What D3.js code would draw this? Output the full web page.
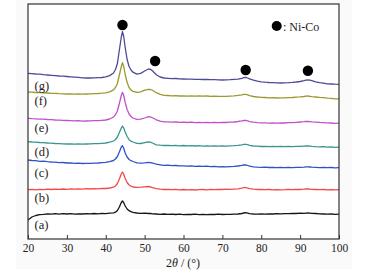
<!DOCTYPE html>
<html><head><meta charset="utf-8">
<script src="https://cdn.jsdelivr.net/npm/d3@7/dist/d3.min.js"></script>
<style>html,body{margin:0;padding:0;background:#fff;}svg{display:block;}</style>
</head><body>
<svg id="c" width="367" height="274"></svg>
<script>
const twoTheta = [20,21,22,23,24,25,26,27,28,29,30,31,32,33,34,35,36,37,38,39,40,41,42,42.5,43,43.5,44,44.3,44.6,45,45.5,46,46.5,47,48,49,50,51,51.5,52,53,54,55,56,57,58,59,60,61,62,63,64,65,66,67,68,69,70,71,72,73,74,75,75.5,76,76.5,77,78,79,80,81,82,83,84,85,86,87,88,89,90,91,91.5,92,92.5,93,94,95,96,97,98,99,100];

const seriesA = [19,22,23.5,24.3,24.6,25.2,24.8,25.3,24.9,25.4,25.0,25.3,24.8,25.2,25.0,25.4,25.1,25.5,25.2,25.6,25.4,25.8,26.2,26.8,28.5,32,36.5,38,36.5,33,30,28.3,27.3,26.6,26.0,25.7,25.8,25.5,25.6,25.2,25.0,24.7,25.0,24.6,24.9,24.5,24.8,24.4,24.7,24.5,24.8,24.4,24.6,24.3,24.7,24.5,24.8,24.5,24.7,24.6,24.9,25.0,25.5,26.0,26.3,25.8,25.3,25.0,24.8,25.1,24.9,25.2,25.0,25.3,25.1,25.4,25.3,25.6,25.5,25.8,25.7,25.9,26.0,25.8,25.6,25.5,25.2,25.0,24.8,25.0,24.7,24.8];
const seriesB = [49.3,49.6,49.2,49.7,49.4,49.8,49.5,49.9,49.6,50.0,49.7,50.1,49.8,50.2,49.9,50.3,50.0,50.4,50.2,50.6,50.5,51.0,51.8,53,55.5,60,65,67,65,60.5,56.5,54.0,52.8,52.0,51.6,51.8,52.2,52.5,52.2,51.3,50.3,49.8,49.5,49.7,49.3,49.6,49.2,49.5,49.1,49.4,49.0,49.3,49.5,49.2,49.6,49.3,49.7,49.5,49.8,49.6,49.9,50.2,50.8,51.3,51.5,50.9,50.3,49.8,49.5,49.7,49.3,49.5,49.2,49.4,49.1,49.3,49.6,49.4,49.7,49.5,49.8,50.0,50.1,49.9,49.7,49.5,49.3,49.5,49.2,49.4,49.1,49.3];
const seriesC = [79.0,78.5,78.3,77.7,77.8,77.3,77.0,76.9,76.4,76.5,76.0,76.1,75.7,75.9,75.5,75.7,75.6,75.9,76.0,76.4,76.6,77.4,78.5,80,82.5,87,92,93.3,91,86,82,79.5,78.3,77.5,76.2,75.8,76.1,76.6,76.3,76.0,74.8,74.2,73.6,73.8,73.3,73.5,73.1,73.2,72.9,73.1,72.7,72.9,72.6,72.8,72.4,72.6,72.2,72.3,72.1,72.4,72.6,73.0,73.6,74.0,74.1,73.5,72.8,72.2,71.8,71.6,71.8,71.5,71.7,71.4,71.6,71.3,71.5,71.4,71.7,71.6,71.9,72.1,72.2,72.0,71.8,71.6,71.4,71.6,71.3,71.5,71.2,71.3];
const seriesD = [97.3,97.0,96.8,96.5,96.3,96.0,95.8,95.5,95.4,95.1,95.0,95.2,94.9,95.1,94.8,95.0,95.1,95.3,95.4,95.7,96.0,96.8,98.0,99.5,102,106.5,111,113,111.2,107,102.5,99.3,97.8,97.0,95.6,95.5,96.4,97.0,96.8,96.0,94.2,93.8,93.5,93.7,93.3,93.6,93.2,93.5,93.1,93.4,93.0,93.3,92.9,93.2,92.8,93.1,92.8,93.0,92.8,93.1,93.3,93.6,94.2,94.6,94.7,94.3,93.6,93.0,92.8,92.5,92.7,92.4,92.6,92.3,92.5,92.3,92.6,92.4,92.7,92.6,92.9,93.0,93.1,92.9,92.6,92.3,92.1,92.3,91.9,92.1,91.7,91.8];
const seriesE = [120.7,120.4,120.2,119.9,119.8,119.5,119.3,119.0,118.9,118.6,118.5,118.4,118.1,118.3,117.9,118.0,118.1,118.3,118.4,118.7,119.0,120.0,122.0,124.3,128,135.5,143.5,146.7,144,136.5,129.5,125.0,122.5,121.0,119.6,119.8,121.0,122.3,122.0,121.3,119.2,117.8,117.1,117.2,116.8,117.0,116.6,116.8,116.5,116.8,116.4,116.7,116.4,116.6,116.3,116.6,116.4,116.6,116.5,116.8,117.0,117.5,118.1,118.5,118.6,118.1,117.4,116.8,116.4,116.1,116.2,115.9,116.1,115.9,116.1,116.0,116.3,116.4,116.7,117.0,117.3,117.5,117.6,117.4,117.1,116.9,116.6,116.4,116.1,116.0,115.7,115.8];
const seriesF = [147.0,146.8,146.5,146.4,146.1,146.0,145.7,145.6,145.3,145.2,145.0,145.1,144.8,145.0,144.8,145.0,145.1,145.3,145.5,145.8,146.2,147.2,149.2,151.5,155.5,164,172.5,176.3,173,164.5,156.5,151.5,149.0,147.6,146.6,147.2,148.8,149.7,149.5,148.8,146.3,144.6,143.7,143.5,143.2,143.4,143.0,143.2,142.9,143.2,142.9,143.1,142.8,143.0,142.7,142.9,142.6,142.7,142.6,142.9,143.2,143.6,144.2,144.6,144.7,144.1,143.3,142.5,142.0,141.6,141.5,141.2,141.3,141.0,141.2,141.1,141.4,141.5,141.8,142.1,142.5,142.8,143.0,142.7,142.3,142.0,141.6,141.3,140.8,140.6,140.2,140.1];
const seriesG = [165.7,165.4,165.0,164.8,164.3,164.0,163.7,163.4,163.0,162.8,162.5,162.2,161.9,161.6,161.2,161.0,161.0,161.1,161.3,161.5,162.1,163.4,166.0,169.5,175.5,189,202,207.3,203,191.5,179.5,172.5,169,166.8,164.8,165.6,168.0,170.0,169.6,168.2,164.3,162.0,161.0,160.7,160.4,160.5,160.1,160.0,159.8,159.9,159.6,159.7,159.5,159.6,159.3,159.4,159.1,159.0,159.1,159.3,159.6,159.8,160.6,161.3,161.6,161.0,160.1,158.8,157.8,157.2,156.8,156.5,156.3,156.1,156.0,156.1,156.3,156.6,157.0,157.5,158.4,158.9,159.1,158.8,158.3,157.2,156.4,155.8,155.2,155.0,154.8,154.7];

const seriesNames = ["(a)","(b)","(c)","(d)","(e)","(f)","(g)"];
const seriesColors = ["#151515","#f24a4a","#2f52c4","#3a958c","#c052c8","#9a9a32","#4d4b98"];
const labelLevels = [15,41.5,67,88,111.5,139,154];
const markerX = [44.3,52.7,76.0,92.0];
const markerY = [214,178,169,168.3];
const xTicks = [20,30,40,50,60,70,80,90,100];

const svg = d3.select("#c");
const L = 28, R = 339, T = 4, B = 239;
svg.append("rect").attr("x",16).attr("y",0).attr("width",336).attr("height",269).attr("fill","#fafafa");
svg.append("rect").attr("x",L).attr("y",T).attr("width",R-L).attr("height",B-T).attr("fill","#fff");

const x = d3.scaleLinear().domain([20,100]).range([L,R]);
const y = d3.scaleLinear().domain([0,235]).range([B,T]);

const all = [seriesA,seriesB,seriesC,seriesD,seriesE,seriesF,seriesG];
const line = d3.line().x((d,i)=>x(twoTheta[i])).y(d=>y(d));
all.forEach((s,k)=>{
  svg.append("path").attr("d",line(s)).attr("fill","none")
    .attr("stroke",seriesColors[k]).attr("stroke-width",1.3).attr("stroke-linejoin","round");
});

const font = "'Liberation Serif','Times New Roman',serif";
seriesNames.forEach((n,k)=>{
  svg.append("text").attr("x",34.5).attr("y",y(labelLevels[k])+4.5)
    .attr("font-family",font).attr("font-size",12.5).attr("fill","#222").text(n);
});

markerX.forEach((m,i)=>{
  svg.append("circle").attr("cx",x(m)).attr("cy",y(markerY[i])).attr("r",5.2).attr("fill","#000");
});

// legend
svg.append("circle").attr("cx",276.7).attr("cy",26).attr("r",5).attr("fill","#000");
svg.append("text").attr("x",283).attr("y",30.5).attr("font-family",font).attr("font-size",12).attr("fill","#222").text(": Ni-Co");

// axis
const ax = d3.axisBottom(x).tickValues(xTicks).tickSizeInner(-4).tickSizeOuter(0).tickPadding(5);
const g = svg.append("g").attr("transform",`translate(0,${B})`).call(ax);
g.select(".domain").remove();
g.selectAll("line").attr("stroke","#333").attr("stroke-width",1);
g.selectAll("text").attr("font-family",font).attr("font-size",11.5).attr("fill","#222");

svg.append("rect").attr("x",L).attr("y",T).attr("width",R-L).attr("height",B-T)
  .attr("fill","none").attr("stroke","#333").attr("stroke-width",1.2);

const t = svg.append("text").attr("x",183).attr("y",267).attr("text-anchor","middle")
  .attr("font-family",font).attr("font-size",12).attr("fill","#222");
t.append("tspan").text("2");
t.append("tspan").attr("font-style","italic").text("θ");
t.append("tspan").text(" / (°)");
</script>
</body></html>
